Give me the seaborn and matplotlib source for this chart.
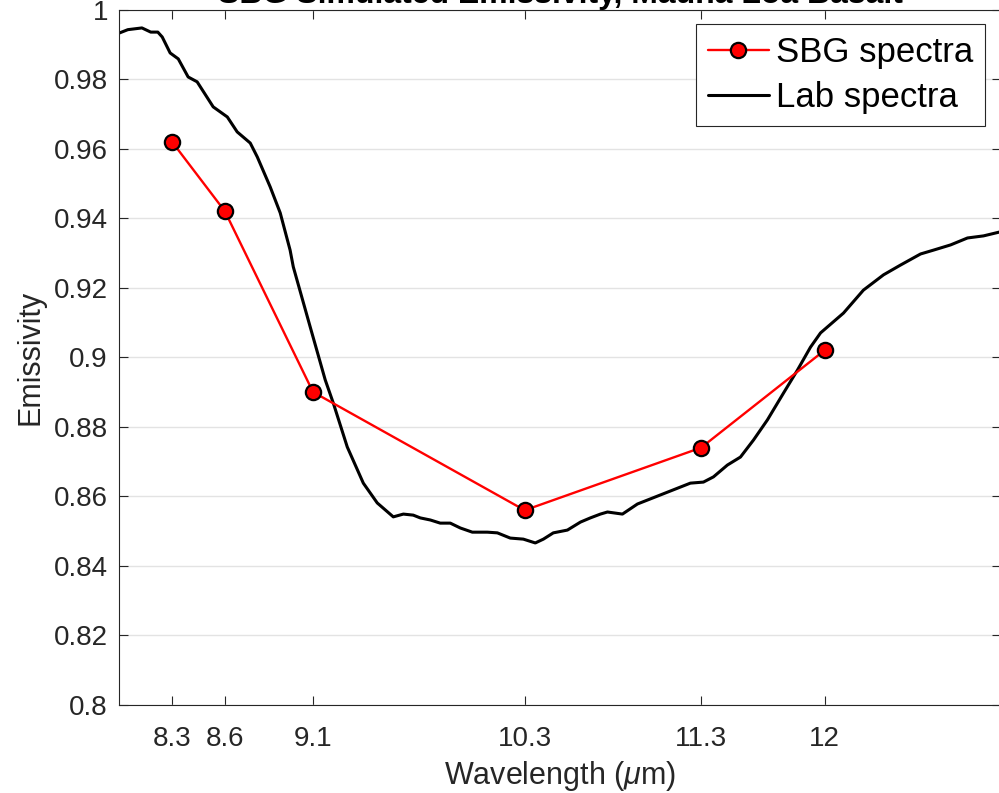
import numpy as np
import pandas as pd
import matplotlib
matplotlib.use("Agg")
import matplotlib.pyplot as plt
import seaborn as sns
from matplotlib.ticker import FuncFormatter

# ---- data ----
sbg_wavelength = [8.3, 8.6, 9.1, 10.3, 11.3, 12.0]
sbg_emissivity = [0.962, 0.942, 0.890, 0.856, 0.874, 0.902]

lab_wavelength = [8.00, 8.05, 8.13, 8.18, 8.22, 8.245, 8.29, 8.336, 8.392, 8.443,
                  8.534, 8.614, 8.670, 8.744, 8.784, 8.857, 8.914, 8.970, 8.988, 9.084,
                  9.169, 9.215, 9.294, 9.385, 9.464, 9.555, 9.612, 9.668, 9.708, 9.765,
                  9.821, 9.878, 9.935, 10.003, 10.088, 10.145, 10.218, 10.292, 10.360, 10.406,
                  10.462, 10.542, 10.616, 10.672, 10.729, 10.769, 10.854, 10.939, 11.069, 11.239,
                  11.313, 11.370, 11.449, 11.523, 11.597, 11.676, 11.767, 11.846, 11.920, 11.977,
                  12.107, 12.220, 12.334, 12.430, 12.544, 12.617, 12.714, 12.810, 12.901, 12.991]
lab_emissivity = [0.9932, 0.9942, 0.9947, 0.9935, 0.9935, 0.9921, 0.9875, 0.9858, 0.9806, 0.9792,
                  0.9720, 0.9691, 0.9648, 0.9616, 0.9576, 0.9490, 0.9415, 0.9308, 0.9260, 0.9087,
                  0.8935, 0.8868, 0.8742, 0.8638, 0.8581, 0.8541, 0.8549, 0.8546, 0.8538, 0.8532,
                  0.8523, 0.8523, 0.8509, 0.8497, 0.8497, 0.8495, 0.8480, 0.8477, 0.8466, 0.8477,
                  0.8495, 0.8503, 0.8526, 0.8538, 0.8549, 0.8555, 0.8549, 0.8578, 0.8604, 0.8638,
                  0.8641, 0.8656, 0.8690, 0.8713, 0.8762, 0.8820, 0.8897, 0.8963, 0.9029, 0.9070,
                  0.9127, 0.9193, 0.9237, 0.9265, 0.9297, 0.9308, 0.9323, 0.9343, 0.9349, 0.9360]

x_ticks = [8.3, 8.6, 9.1, 10.3, 11.3, 12]
x_tick_labels = ["8.3", "8.6", "9.1", "10.3", "11.3", "12"]
y_ticks = [0.8, 0.82, 0.84, 0.86, 0.88, 0.9, 0.92, 0.94, 0.96, 0.98, 1.0]

title_text = "SBG Simulated Emissivity, Mauna Loa Basalt"
xlabel_text = r"Wavelength ($\mu$m)"
ylabel_text = "Emissivity"
legend_labels = ["SBG spectra", "Lab spectra"]

# ---- style ----
sns.set_theme(style="white")
plt.rcParams["font.family"] = ["Liberation Sans", "DejaVu Sans"]
plt.rcParams["mathtext.fontset"] = "custom"
plt.rcParams["mathtext.it"] = "Liberation Sans:italic"
plt.rcParams["mathtext.rm"] = "Liberation Sans"

TXT = "#262626"

fig = plt.figure(figsize=(9.99, 7.93), dpi=100)
ax = fig.add_axes([119 / 999, 1 - 705 / 793, 882 / 999, (705 - 9.5) / 793])

sbg_df = pd.DataFrame({"wavelength": sbg_wavelength, "emissivity": sbg_emissivity})
lab_df = pd.DataFrame({"wavelength": lab_wavelength, "emissivity": lab_emissivity})

sns.lineplot(data=sbg_df, x="wavelength", y="emissivity", ax=ax, color="#ff0000",
             linewidth=1.7, marker="o", markersize=11, markerfacecolor="#ff0000",
             markeredgecolor="black", markeredgewidth=1.6, label=legend_labels[0],
             zorder=3)
sns.lineplot(data=lab_df, x="wavelength", y="emissivity", ax=ax, color="black",
             linewidth=2.2, label=legend_labels[1], zorder=2)

ax.set_xlim(8, 13)
ax.set_ylim(0.8, 1.0)
ax.set_xticks(x_ticks)
ax.set_xticklabels(x_tick_labels)
ax.set_yticks(y_ticks)
ax.yaxis.set_major_formatter(FuncFormatter(lambda v, p: f"{v:g}"))

ax.grid(axis="y", color="#e3e3e3", linewidth=1.0)
ax.grid(axis="x", visible=False)

for s in ax.spines.values():
    s.set_color(TXT)
    s.set_linewidth(0.8)
    s.set_visible(True)

ax.tick_params(axis="both", which="major", direction="in", length=6.5, width=0.8,
               color=TXT, labelcolor=TXT, labelsize=20, top=True, right=True,
               bottom=True, left=True)
ax.tick_params(axis="y", pad=8)
ax.tick_params(axis="x", pad=15)

ax.set_xlabel(xlabel_text, fontsize=22, color=TXT, labelpad=5)
ax.set_ylabel(ylabel_text, fontsize=22, color=TXT, labelpad=6)
ax.set_title(title_text, fontsize=23, fontweight="bold", color="black", pad=5)

leg = ax.legend(loc="upper right", bbox_to_anchor=(0.982, 0.979), borderaxespad=0,
                fontsize=25, frameon=True, fancybox=False, framealpha=1,
                edgecolor=TXT, handlelength=1.75, handletextpad=0.2,
                borderpad=0.35, labelspacing=0.34)
leg.get_frame().set_linewidth(0.8)
for t in leg.get_texts():
    t.set_color("black")

fig.savefig("out.png", dpi=100)
